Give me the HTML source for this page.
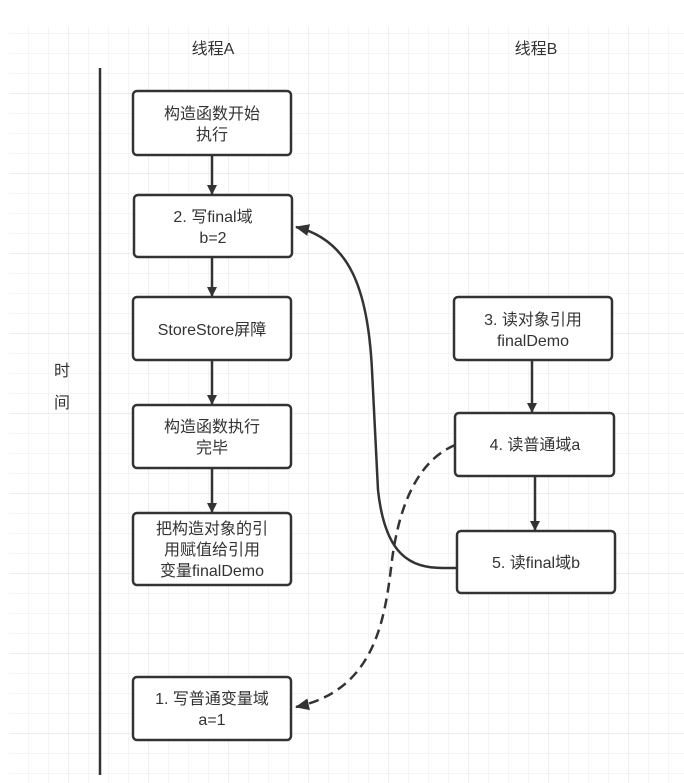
<!DOCTYPE html>
<html><head><meta charset="utf-8"><style>
html,body{margin:0;padding:0;background:#fff;}
svg{display:block;}
text{font-family:"Liberation Sans","Noto Sans CJK SC",sans-serif;fill:#333;font-size:16px;text-anchor:middle;}
</style></head><body>
<svg width="684" height="783" viewBox="0 0 684 783" xmlns="http://www.w3.org/2000/svg">
<defs>
<pattern id="g" x="8" y="13" width="20" height="20" patternUnits="userSpaceOnUse">
<path d="M0 0H20M0 0V20" stroke="#ebebeb" stroke-width="1" fill="none"/>
</pattern>
<pattern id="G" x="-12" y="13" width="80" height="80" patternUnits="userSpaceOnUse">
<path d="M0 0H80M0 0V80" stroke="#dedede" stroke-width="1" fill="none"/>
</pattern>
<marker id="ar" markerWidth="10" markerHeight="10" refX="9" refY="5" orient="auto" markerUnits="userSpaceOnUse">
<path d="M0,0 L10,5 L0,10 Z" fill="#333"/>
</marker>
<marker id="ar2" markerWidth="14" markerHeight="12" refX="13" refY="6" orient="auto" markerUnits="userSpaceOnUse">
<path d="M0,0 L14,6 L0,12 Z" fill="#333"/>
</marker>
</defs>
<rect x="9" y="27" width="675" height="756" fill="url(#g)"/>
<rect x="9" y="27" width="675" height="756" fill="url(#G)"/>

<text x="213" y="54" font-size="17">线程A</text>
<text x="536" y="54" font-size="17">线程B</text>

<line x1="100" y1="68" x2="100" y2="775" stroke="#333" stroke-width="2.5"/>
<text x="62" y="376" font-size="25">时</text>
<text x="62" y="408" font-size="25">间</text>

<g fill="#fff" stroke="#333" stroke-width="2.5">
<rect x="133" y="91" width="158" height="64" rx="4"/>
<rect x="134" y="195" width="158" height="62" rx="4"/>
<rect x="133" y="297" width="158" height="63" rx="4"/>
<rect x="133" y="405" width="158" height="63" rx="4"/>
<rect x="133" y="513" width="158" height="72" rx="4"/>
<rect x="133" y="677" width="158" height="63" rx="4"/>
<rect x="454" y="297" width="158" height="63" rx="4"/>
<rect x="455" y="413" width="159" height="63" rx="4"/>
<rect x="457" y="531" width="158" height="62" rx="4"/>
</g>

<g stroke="#333" stroke-width="2.5" fill="none">
<line x1="212" y1="155" x2="212" y2="194" marker-end="url(#ar)"/>
<line x1="212" y1="257" x2="212" y2="296" marker-end="url(#ar)"/>
<line x1="212" y1="360" x2="212" y2="404" marker-end="url(#ar)"/>
<line x1="212" y1="468" x2="212" y2="512" marker-end="url(#ar)"/>
<line x1="532" y1="360" x2="532" y2="412" marker-end="url(#ar)"/>
<line x1="535" y1="476" x2="535" y2="530" marker-end="url(#ar)"/>
<path d="M457,568 L443,568 C410,568 385,555 378,490 L372,370 C368,290 350,240 296,227" marker-end="url(#ar2)"/>
<path d="M455,445 C420,460 400,500 392,560 C385,620 375,690 296,707" stroke-dasharray="10,6" marker-end="url(#ar2)"/>
</g>

<text x="212" y="119">构造函数开始</text>
<text x="212" y="140">执行</text>
<text x="213" y="222">2. 写final域</text>
<text x="213" y="243">b=2</text>
<text x="212" y="335">StoreStore屏障</text>
<text x="212" y="432">构造函数执行</text>
<text x="212" y="453">完毕</text>
<text x="212" y="534">把构造对象的引</text>
<text x="212" y="555">用赋值给引用</text>
<text x="212" y="576">变量finalDemo</text>
<text x="212" y="704">1. 写普通变量域</text>
<text x="212" y="725">a=1</text>
<text x="533" y="325">3. 读对象引用</text>
<text x="533" y="346">finalDemo</text>
<text x="535" y="450">4. 读普通域a</text>
<text x="536" y="568">5. 读final域b</text>
</svg>
</body></html>
